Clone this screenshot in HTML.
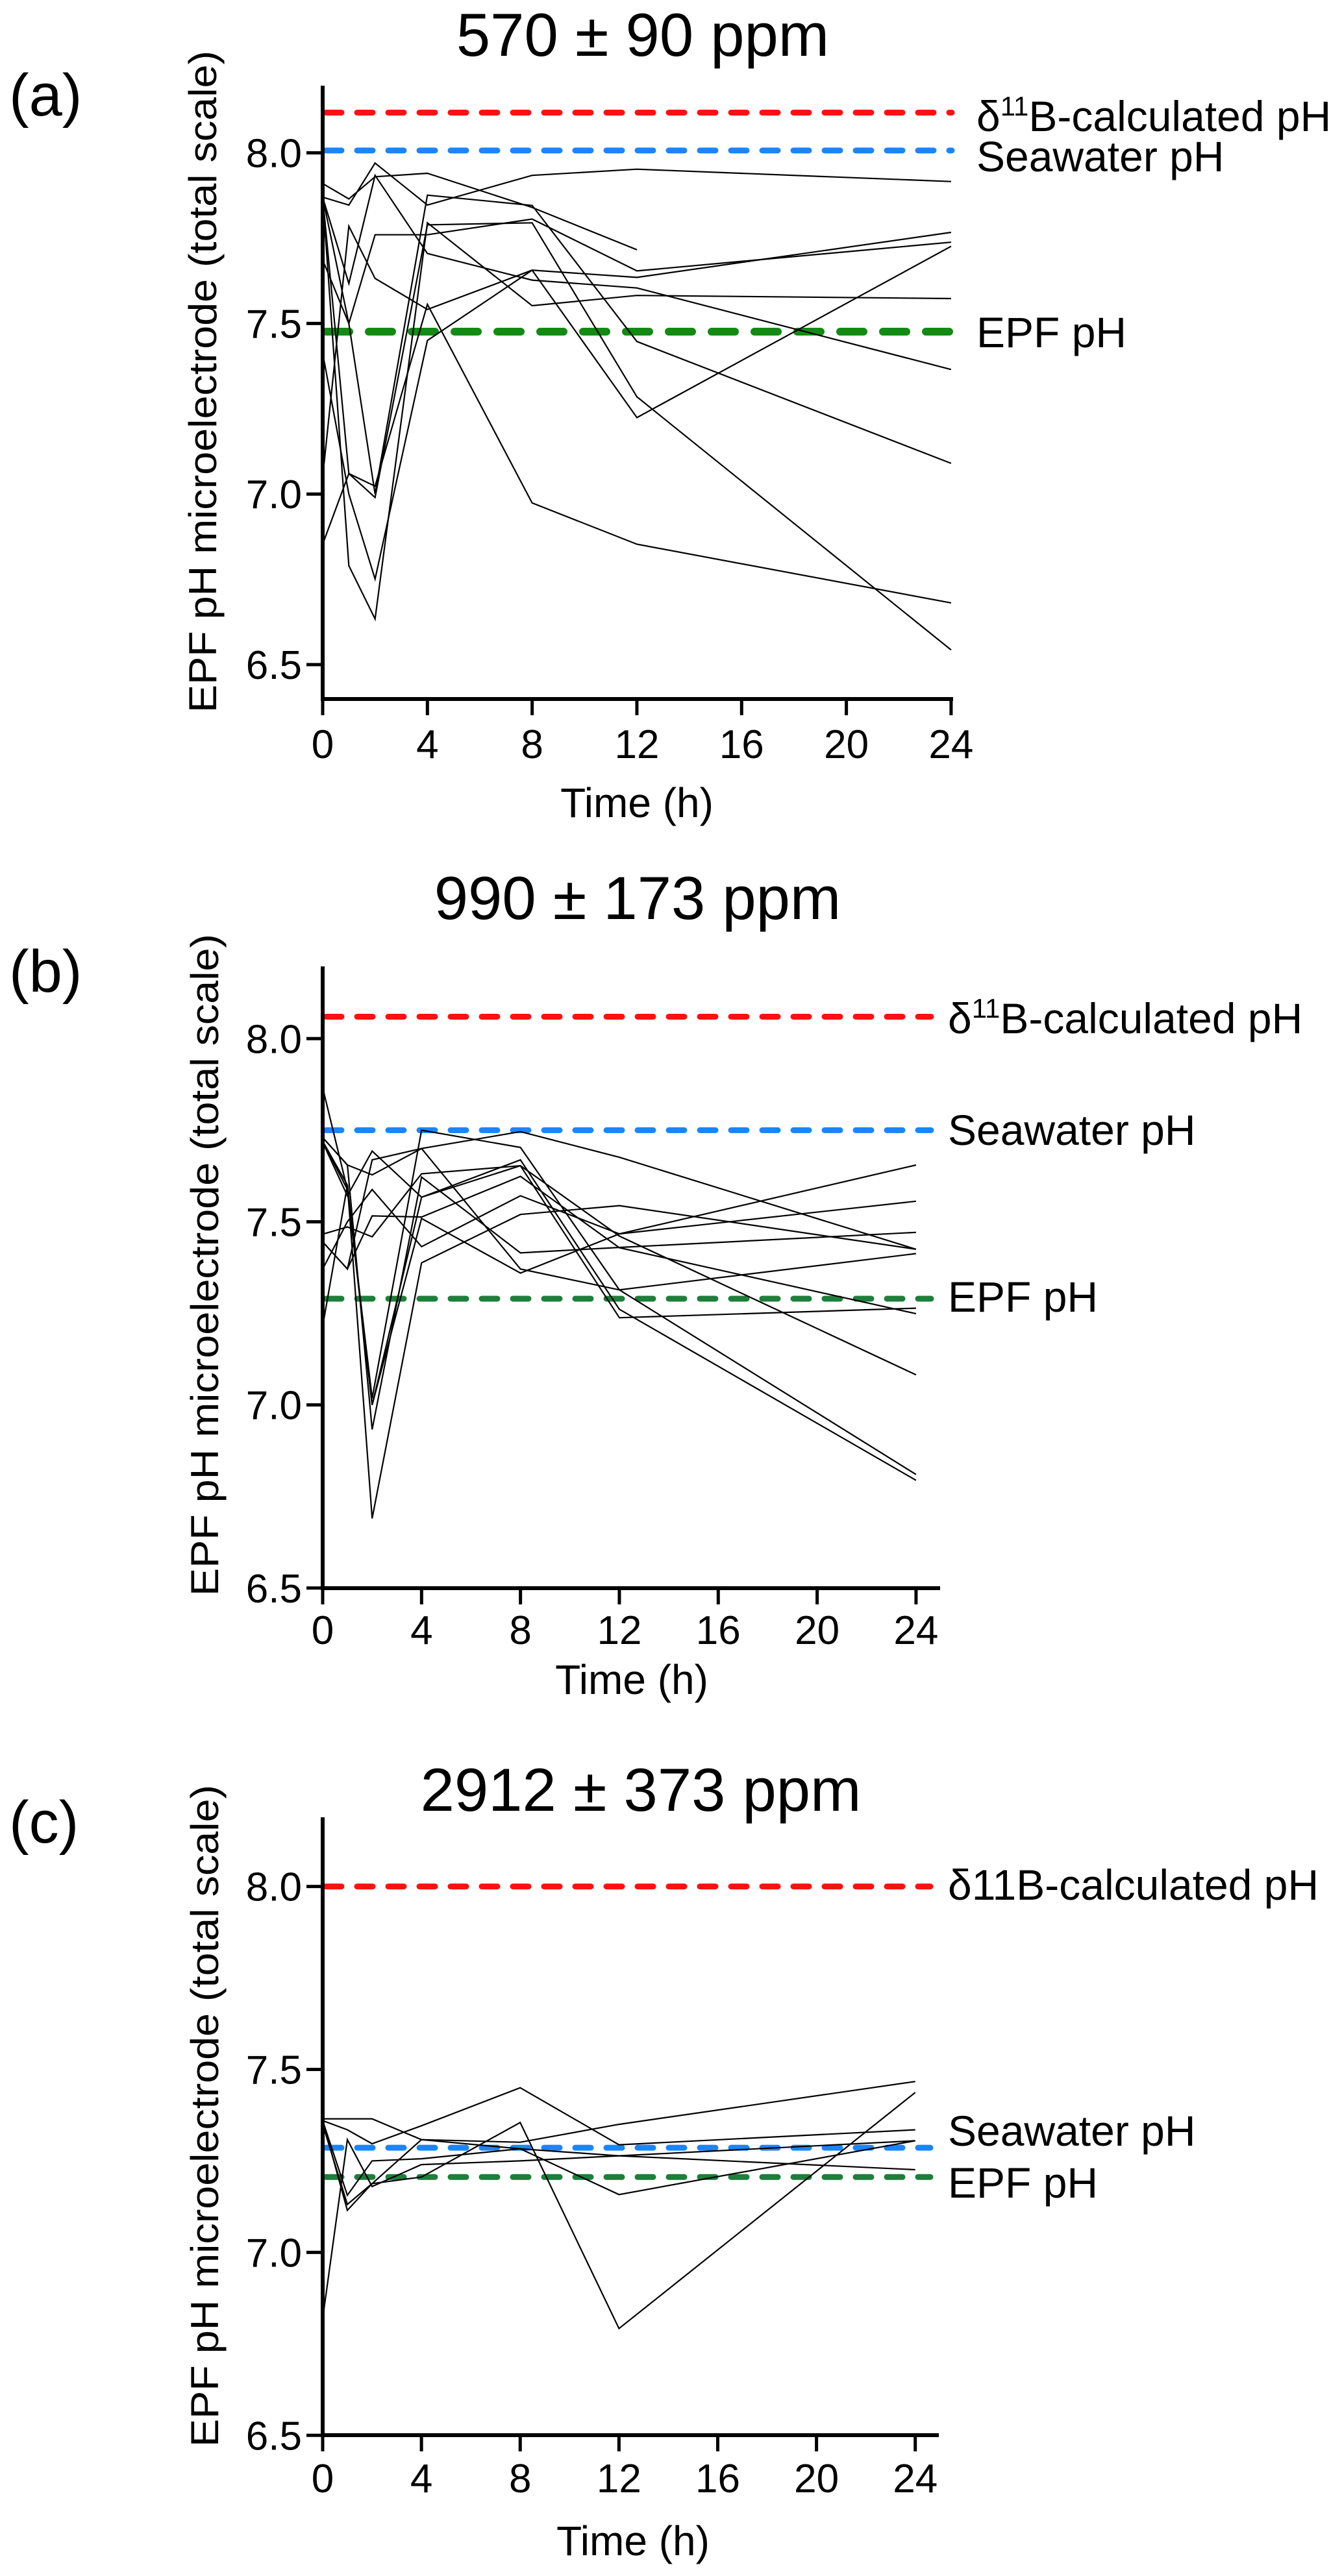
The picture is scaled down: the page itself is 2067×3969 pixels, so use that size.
<!DOCTYPE html>
<html>
<head>
<meta charset="utf-8">
<style>
  html, body { margin: 0; padding: 0; background: #fff; }
  svg { display: block; }
  text { font-family: "Liberation Sans", Arial, sans-serif; fill: #000; }
</style>
</head>
<body>
<svg id="fig" width="2067" height="3969" viewBox="0 0 2067 3969" xmlns="http://www.w3.org/2000/svg">
  <rect x="0" y="0" width="2067" height="3969" fill="#fff"/>
</svg>
<script>
// ---------- DATA ----------
const times = [0, 1, 2, 4, 8, 12, 24];
const timesShort = [0, 1, 2, 4, 8, 12];
const xTicks = [0, 4, 8, 12, 16, 20, 24];
const yTicks = [6.5, 7.0, 7.5, 8.0];
const yTickLabels = ["6.5", "7.0", "7.5", "8.0"];
const titles = ["570 ± 90 ppm", "990 ± 173 ppm", "2912 ± 373 ppm"];
const panelLetters = ["(a)", "(b)", "(c)"];

// Panel (a) series
const seriesA = [
  [7.91, 7.865, 7.93, 7.94, 7.84, 7.716],
  [7.87, 7.847, 7.97, 7.847, 7.934, 7.952, 7.916],
  [7.87, 7.50, 7.00, 7.876, 7.846, 7.447, 7.09],
  [7.87, 7.06, 6.99, 7.789, 7.795, 7.285, 6.543],
  [7.05, 7.785, 7.632, 7.541, 7.656, 7.635, 7.767],
  [7.87, 7.617, 7.934, 7.705, 7.627, 7.604, 7.365],
  [7.686, 7.50, 7.76, 7.76, 7.806, 7.654, 7.738],
  [6.853, 7.06, 7.023, 7.556, 6.974, 6.853, 6.681],
  [7.413, 7.00, 6.751, 7.45, 7.656, 7.224, 7.726],
  [7.87, 6.79, 6.634, 7.795, 7.552, 7.582, 7.573]
];
// Panel (b) series
const seriesB = [
  [7.866, 7.588, 7.018, 7.75, 7.703, 7.314, 6.81],
  [7.73, 7.655, 7.628, 7.70, 7.746, 7.676, 7.425],
  [7.717, 7.571, 7.693, 7.567, 7.669, 7.261, 6.794],
  [7.466, 7.486, 7.459, 7.631, 7.653, 7.238, 7.264],
  [7.445, 7.371, 7.516, 7.513, 7.624, 7.429, 7.249],
  [7.371, 7.50, 7.588, 7.432, 7.571, 7.467, 7.655],
  [7.215, 7.60, 6.69, 7.388, 7.52, 7.544, 7.425],
  [7.73, 7.655, 6.933, 7.622, 7.415, 7.43, 7.471],
  [7.72, 7.60, 7.00, 7.509, 7.36, 7.467, 7.556],
  [7.445, 7.371, 7.669, 7.70, 7.371, 7.314, 7.413],
  [7.72, 7.588, 7.00, 7.567, 7.653, 7.461, 7.082]
];
// Panel (c) series
const seriesC = [
  [7.365, 7.365, 7.365, 7.308, 7.283, 7.264, 7.226],
  [7.36, 7.335, 7.297, 7.346, 7.45, 7.294, 7.335],
  [7.35, 7.131, 7.188, 7.308, 7.301, 7.35, 7.467],
  [6.819, 7.308, 7.18, 7.24, 7.25, 7.264, 7.305],
  [7.36, 7.115, 7.188, 7.206, 7.355, 6.792, 7.437],
  [7.36, 7.156, 7.25, 7.256, 7.283, 7.158, 7.305]
];
// Reference lines [delta11B, seawater, EPF]
const refA = [8.118, 8.007, 7.476];
const refB = [8.06, 7.75, 7.29];
const refC = [8.0, 7.286, 7.206];

// ---------- GEOMETRY (not data) ----------
const panels = [
  { series: seriesA, ref: refA, x0: 497, xPerH: 40.33, y8: 235.5, yPerU: 525.7,
    axisTop: 132, axisBottom: 1077, axisRight: 1468, refEnd: 1466,
    titleX: 990, titleY: 86, letterX: 14, letterY: 178,
    tickLabelY: 1168, xTitleX: 981, xTitleY: 1259, yTitleX: 333, yTitleY: 588,
    labelX: 1504, labelBase: [202, 264, 535], greenW: 12, greenDash: "36 30", superscript: true },
  { series: seriesB, ref: refB, x0: 497, xPerH: 38.08, y8: 1600.3, yPerU: 564.3,
    axisTop: 1489, axisBottom: 2447, axisRight: 1448, refEnd: 1434,
    titleX: 982, titleY: 1416, letterX: 14, letterY: 1528,
    tickLabelY: 2533, xTitleX: 973, xTitleY: 2610, yTitleX: 336, yTitleY: 1949,
    labelX: 1460, labelBase: [1592, 1764, 2021], greenW: 9, greenDash: "24 24", superscript: true },
  { series: seriesC, ref: refC, x0: 497, xPerH: 38.03, y8: 2906.6, yPerU: 563.8,
    axisTop: 2800, axisBottom: 3752, axisRight: 1446, refEnd: 1433,
    titleX: 987, titleY: 2790, letterX: 14, letterY: 2839,
    tickLabelY: 3840, xTitleX: 975, xTitleY: 3937, yTitleX: 336, yTitleY: 3260,
    labelX: 1460, labelBase: [2927, 3306, 3386], greenW: 9, greenDash: "24 24", superscript: false }
];

const NS = "http://www.w3.org/2000/svg";
const svg = document.getElementById("fig");
function mk(tag, attrs, parent) {
  const e = document.createElementNS(NS, tag);
  for (const k in attrs) e.setAttribute(k, attrs[k]);
  (parent || svg).appendChild(e);
  return e;
}

panels.forEach((p, pi) => {
  const letter = ["a", "b", "c"][pi];
  const xs = h => p.x0 + h * p.xPerH;
  const ys = v => p.y8 + (8 - v) * p.yPerU;

  const g = mk("g", {});
  
  

  const t = mk("text", { x: p.titleX, y: p.titleY, "font-size": 94, "text-anchor": "middle" }, g);
  t.textContent = titles[pi];
  
  

  const pl = mk("text", { x: p.letterX, y: p.letterY, "font-size": 92 }, g);
  pl.textContent = panelLetters[pi];
  
  

  const refColors = ["#ff1010", "#1a85ff", p.greenW > 10 ? "#138a13" : "#1d7f3a"];
  const refNames = ["delta11b-reference-line", "seawater-reference-line", "epf-reference-line"];
  p.ref.forEach((v, i) => {
    const w = i === 2 ? p.greenW : 9;
    const dash = i === 2 ? p.greenDash : "24 24";
    const l = mk("line", { x1: p.x0 + 5, x2: p.refEnd, y1: ys(v), y2: ys(v), stroke: refColors[i],
      "stroke-width": w, "stroke-dasharray": dash, "stroke-linecap": "round" }, g);
    
    
  });

  p.series.forEach((s, si) => {
    const tt = s.length === 6 ? timesShort : times;
    const pts = s.map((v, k) => xs(tt[k]).toFixed(1) + "," + ys(v).toFixed(1)).join(" ");
    const pl2 = mk("polyline", { points: pts, fill: "none", stroke: "#000", "stroke-width": 2.2, "stroke-linejoin": "miter" }, g);
    
    
  });

  const ya = mk("line", { x1: p.x0, x2: p.x0, y1: p.axisTop, y2: p.axisBottom + 3, stroke: "#000", "stroke-width": 6 }, g);
  
  
  const xa = mk("line", { x1: p.x0 - 3, x2: p.axisRight, y1: p.axisBottom, y2: p.axisBottom, stroke: "#000", "stroke-width": 6 }, g);
  
  

  yTicks.forEach((v, i) => {
    const tk = mk("line", { x1: p.x0 - 25, x2: p.x0, y1: ys(v), y2: ys(v), stroke: "#000", "stroke-width": 5 }, g);
    
    
    const tl = mk("text", { x: p.x0 - 32, y: ys(v) + 22, "font-size": 62, "text-anchor": "end" }, g);
    tl.textContent = yTickLabels[i];
    
    
  });
  xTicks.forEach(h => {
    const tk = mk("line", { x1: xs(h), x2: xs(h), y1: p.axisBottom, y2: p.axisBottom + 25, stroke: "#000", "stroke-width": 5 }, g);
    
    
    const tl = mk("text", { x: xs(h), y: p.tickLabelY, "font-size": 62, "text-anchor": "middle" }, g);
    tl.textContent = String(h);
    
    
  });

  const xt = mk("text", { x: p.xTitleX, y: p.xTitleY, "font-size": 64, "text-anchor": "middle" }, g);
  xt.textContent = "Time (h)";
  
  
  const yt = mk("text", { x: 0, y: 0, "font-size": 60, "text-anchor": "middle",
    textLength: 1020, lengthAdjust: "spacingAndGlyphs",
    transform: "translate(" + p.yTitleX + "," + p.yTitleY + ") rotate(-90)" }, g);
  yt.textContent = "EPF pH microelectrode (total scale)";
  
  

  const dl = mk("text", { x: p.labelX, y: p.labelBase[0], "font-size": 66 }, g);
  if (p.superscript) {
    const a = mk("tspan", {}, dl); a.textContent = "δ";
    const b = mk("tspan", { dy: -24, "font-size": 42 }, dl); b.textContent = "11";
    const c = mk("tspan", { dy: 24 }, dl); c.textContent = "B-calculated pH";
  } else {
    dl.textContent = "δ11B-calculated pH";
  }
  
  
  const sl = mk("text", { x: p.labelX, y: p.labelBase[1], "font-size": 66 }, g);
  sl.textContent = "Seawater pH";
  
  
  const el = mk("text", { x: p.labelX, y: p.labelBase[2], "font-size": 66 }, g);
  el.textContent = "EPF pH";
  
  
});
</script>
</body>
</html>
